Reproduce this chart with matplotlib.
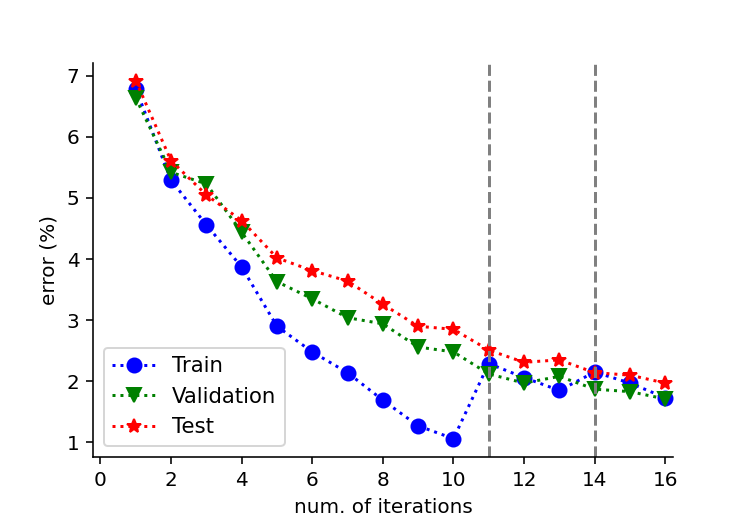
import matplotlib
matplotlib.use("Agg")
import matplotlib.pyplot as plt

iterations = list(range(1, 17))
train = [6.79, 5.29, 4.56, 3.87, 2.90, 2.48, 2.14, 1.69,
         1.27, 1.06, 2.29, 2.06, 1.85, 2.15, 1.97, 1.73]
validation = [6.64, 5.42, 5.23, 4.44, 3.63, 3.35, 3.04, 2.94,
              2.56, 2.48, 2.12, 1.97, 2.08, 1.87, 1.83, 1.71]
test = [6.92, 5.61, 5.05, 4.63, 4.02, 3.81, 3.64, 3.26,
        2.90, 2.85, 2.51, 2.31, 2.35, 2.14, 2.10, 1.97]
marks = [11, 14]

fig = plt.figure(figsize=(747 / 144, 523 / 144), dpi=144)
ax = fig.add_subplot(1, 1, 1)
fig.subplots_adjust(left=0.125, right=0.901, bottom=0.127, top=0.88)

ax.plot(iterations, train, 'bo:', ms=7, label='Train')
ax.plot(iterations, validation, 'gv:', ms=7, label='Validation')
ax.plot(iterations, test, 'r*:', ms=7, label='Test')
for m in marks:
    ax.axvline(m, color='grey', linestyle='--')

ax.set_xlim(-0.2, 16.22)
ax.set_xticks(range(0, 17, 2))
ax.set_xlabel('num. of iterations')
ax.set_ylabel('error (%)')
ax.spines['top'].set_visible(False)
ax.spines['right'].set_visible(False)
ax.legend(loc='lower left', fontsize=10.6)

fig.savefig('out.png', dpi=144)
